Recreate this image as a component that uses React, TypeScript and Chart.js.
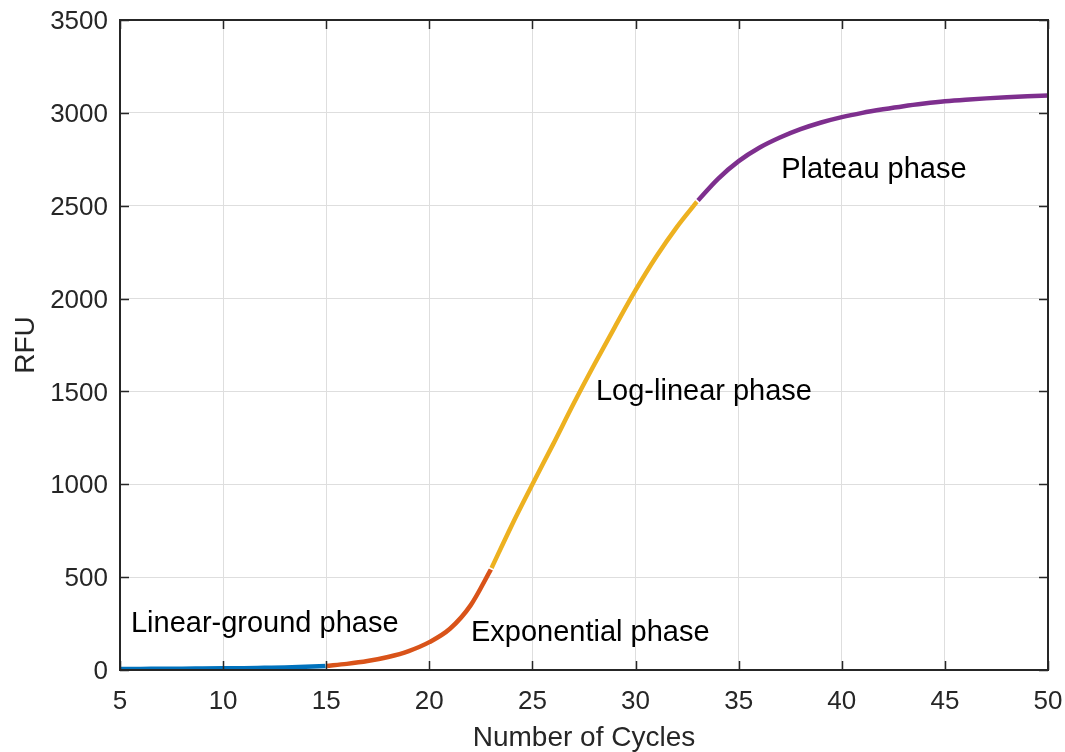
import React, { useEffect, useRef } from "react";
import { Chart, registerables } from "chart.js";

Chart.register(...registerables);

// ---- Data ----
const linearCycles = [5, 6, 7, 8, 9, 10, 11, 12, 13, 14, 15];
const linearRFU = [6, 6, 7, 7, 8, 9, 10, 12, 14, 17, 22];

const expCycles = [15, 16, 17, 18, 19, 20, 21, 22, 23];
const expRFU = [22, 33, 48, 70, 102, 150, 222, 348, 545];

const logCycles = [23, 24, 25, 26, 27, 28, 29, 30, 31, 32, 33];
const logRFU = [545, 780, 1000, 1215, 1435, 1645, 1848, 2045, 2225, 2385, 2525];

const plateauCycles = [33, 34, 35, 36, 37, 38, 39, 40, 41, 42, 43, 44, 45, 46, 47, 48, 49, 50];
const plateauRFU = [2525, 2645, 2740, 2812, 2867, 2912, 2948, 2977, 3000, 3019, 3036, 3050, 3062, 3071, 3078, 3084, 3089, 3093];

const xTicks = [5, 10, 15, 20, 25, 30, 35, 40, 45, 50];
const yTicks = [0, 500, 1000, 1500, 2000, 2500, 3000, 3500];

const phaseLabels = ["Linear-ground phase", "Exponential phase", "Log-linear phase", "Plateau phase"];
const phaseLabelX = [5.53, 22.02, 28.08, 37.06];
const phaseLabelY = [247, 199, 1495, 2694];

const seriesColors = ["#0072BD", "#D95319", "#EDB120", "#7E2F8E"];

const FONT = "'Liberation Sans', Arial, Helvetica, sans-serif";
const AXIS = "#262626";

const toPoints = (xs: number[], ys: number[]) => xs.map((x, i) => ({ x, y: ys[i] }));

const boxPlugin = {
  id: "matlabBox",
  afterDatasetsDraw(chart: any) {
    const { ctx, chartArea, scales } = chart;
    const { left, right, top, bottom } = chartArea;
    ctx.save();

    // small white joints where consecutive phase segments meet
    for (let i = 1; i < chart.data.datasets.length; i++) {
      const pts = chart.getDatasetMeta(i).data;
      if (pts.length < 2) continue;
      const p0 = pts[0];
      const p1 = pts[1];
      const dx = p1.x - p0.x;
      const dy = p1.y - p0.y;
      const len = Math.hypot(dx, dy) || 1;
      const nx = -dy / len;
      const ny = dx / len;
      ctx.strokeStyle = "#ffffff";
      ctx.lineWidth = 1.6;
      ctx.beginPath();
      ctx.moveTo(p0.x + nx * 4, p0.y + ny * 4);
      ctx.lineTo(p0.x - nx * 4, p0.y - ny * 4);
      ctx.stroke();
    }

    ctx.strokeStyle = AXIS;
    ctx.lineWidth = 1.5;
    const tl = 9;
    ctx.beginPath();
    xTicks.forEach((t) => {
      const px = Math.round(scales.x.getPixelForValue(t)) + 0.5;
      ctx.moveTo(px, bottom);
      ctx.lineTo(px, bottom - tl);
      ctx.moveTo(px, top);
      ctx.lineTo(px, top + tl);
    });
    yTicks.forEach((t) => {
      const py = Math.round(scales.y.getPixelForValue(t)) + 0.5;
      ctx.moveTo(left, py);
      ctx.lineTo(left + tl, py);
      ctx.moveTo(right, py);
      ctx.lineTo(right - tl, py);
    });
    ctx.stroke();
    ctx.lineWidth = 2;
    ctx.strokeRect(left, top, right - left, bottom - top);

    // phase annotations
    ctx.fillStyle = "#000000";
    ctx.font = `29px ${FONT}`;
    ctx.textAlign = "left";
    ctx.textBaseline = "middle";
    phaseLabels.forEach((txt, i) => {
      ctx.fillText(txt, scales.x.getPixelForValue(phaseLabelX[i]), scales.y.getPixelForValue(phaseLabelY[i]));
    });
    ctx.restore();
  },
};

export default function App() {
  const canvasRef = useRef<HTMLCanvasElement | null>(null);

  useEffect(() => {
    const canvas = canvasRef.current;
    if (!canvas) return;
    const sets = [
      toPoints(linearCycles, linearRFU),
      toPoints(expCycles, expRFU),
      toPoints(logCycles, logRFU),
      toPoints(plateauCycles, plateauRFU),
    ];
    const chart = new Chart(canvas, {
      type: "line",
      data: {
        datasets: sets.map((d, i) => ({
          label: phaseLabels[i],
          data: d,
          borderColor: seriesColors[i],
          backgroundColor: seriesColors[i],
          borderWidth: 4.5,
          pointRadius: 0,
          cubicInterpolationMode: "monotone" as const,
          fill: false,
          borderCapStyle: "butt" as const,
        })),
      },
      options: {
        responsive: false,
        animation: false,
        events: [],
        layout: { padding: { left: 0, right: 17, top: 20, bottom: 0 } },
        plugins: { legend: { display: false }, tooltip: { enabled: false } },
        scales: {
          x: {
            type: "linear",
            min: 5,
            max: 50,
            afterBuildTicks: (scale: any) => {
              scale.ticks = xTicks.map((v) => ({ value: v }));
            },
            afterFit: (scale: any) => {
              scale.height = 82;
              scale.paddingLeft = 0;
              scale.paddingRight = 0;
            },
            grid: { color: "#dedede", lineWidth: 1, drawTicks: false },
            border: { display: false },
            ticks: {
              color: AXIS,
              padding: 16,
              maxRotation: 0,
              autoSkip: false,
              font: { family: FONT, size: 26 },
              callback: (v: any) => String(v),
            },
            title: {
              display: true,
              text: "Number of Cycles",
              color: AXIS,
              font: { family: FONT, size: 28, lineHeight: 1 },
              padding: { top: 0, bottom: 0 },
            },
          },
          y: {
            type: "linear",
            min: 0,
            max: 3500,
            afterBuildTicks: (scale: any) => {
              scale.ticks = yTicks.map((v) => ({ value: v }));
            },
            afterFit: (scale: any) => {
              scale.width = 120;
              scale.paddingTop = 0;
              scale.paddingBottom = 0;
            },
            grid: { color: "#dedede", lineWidth: 1, drawTicks: false },
            border: { display: false },
            ticks: {
              color: AXIS,
              padding: 12,
              labelOffset: 2,
              autoSkip: false,
              font: { family: FONT, size: 26 },
              callback: (v: any) => String(v),
            },
            title: {
              display: true,
              text: "RFU",
              color: AXIS,
              font: { family: FONT, size: 28, lineHeight: 1 },
              padding: { top: 12, bottom: 0 },
            },
          },
        },
      },
      plugins: [boxPlugin],
    });
    return () => chart.destroy();
  }, []);

  return (
    <div style={{ position: "fixed", left: 0, top: 0, width: 1065, height: 752, background: "#ffffff" }}>
      <canvas ref={canvasRef} width={1065} height={752} style={{ width: 1065, height: 752, display: "block" }} />
    </div>
  );
}
